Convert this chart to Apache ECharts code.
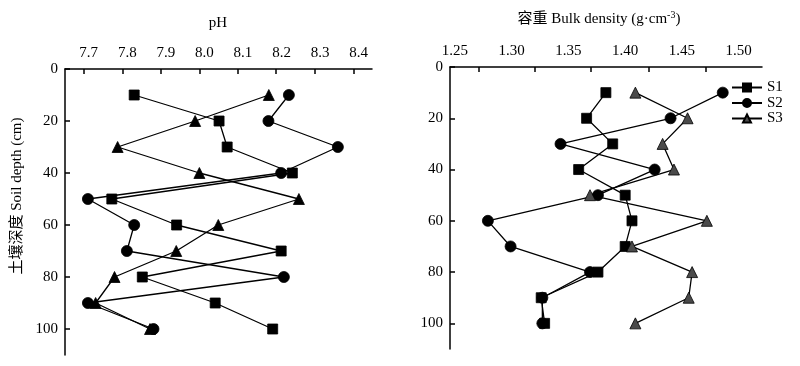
<!DOCTYPE html>
<html>
<head>
<meta charset="utf-8">
<script src="https://cdn.jsdelivr.net/npm/echarts@6/dist/echarts.min.js"></script>
<style>
html,body{margin:0;padding:0;background:#fff;}
#chart{width:800px;height:366px;}
</style>
</head>
<body>
<div id="chart"></div>
<script>
// Depths (cm)
const depths = [10, 20, 30, 40, 50, 60, 70, 80, 90, 100];
// pH values
const phS1 = [7.818, 8.038, 8.059, 8.228, 7.760, 7.928, 8.199, 7.839, 8.028, 8.177];
const phS2 = [8.219, 8.166, 8.346, 8.199, 7.698, 7.818, 7.799, 8.206, 7.698, 7.868];
const phS3 = [8.167, 7.976, 7.775, 7.987, 8.245, 8.036, 7.927, 7.767, 7.718, 7.859];
// Bulk density values (g·cm-3)
const bdS1 = [1.383, 1.366, 1.389, 1.359, 1.400, 1.406, 1.400, 1.376, 1.326, 1.329];
const bdS2 = [1.486, 1.440, 1.343, 1.426, 1.376, 1.279, 1.299, 1.369, 1.327, 1.327];
const bdS3 = [1.409, 1.455, 1.433, 1.443, 1.369, 1.472, 1.406, 1.459, 1.456, 1.409];
// Tick labels and tick mark positions
const phLabels = [7.7, 7.8, 7.9, 8.0, 8.1, 8.2, 8.3, 8.4];
const phTickMarks = [7.686, 7.788, 7.888, 7.987, 8.086, 8.186, 8.286, 8.386];
const bdLabels = [1.25, 1.30, 1.35, 1.40, 1.45, 1.50];
const bdTickMarks = [1.2712, 1.3206, 1.3700, 1.4212, 1.4706];
const depthLabels = [0, 20, 40, 60, 80, 100];

const FONT = "'Liberation Serif', 'Noto Sans CJK SC', serif";
const pairs = (vals) => vals.map((v, i) => [v, depths[i]]);

const axisLineStyle = { color: '#000', width: 1.5 };

function xAx(gi, min, max, labels, ticks, dec) {
  return {
    type: 'value', gridIndex: gi, position: 'top', min: min, max: max,
    axisLine: { show: true, onZero: false, lineStyle: axisLineStyle },
    axisTick: { show: true, inside: true, length: 5, customValues: ticks, lineStyle: { color: '#000', width: 1.5 } },
    axisLabel: { customValues: labels, formatter: v => v.toFixed(dec), margin: 8, fontSize: 15, color: '#000', fontFamily: FONT },
    splitLine: { show: false }
  };
}
function yAx(gi) {
  return {
    type: 'value', gridIndex: gi, inverse: true, min: 0, max: 110,
    axisLine: { show: true, onZero: false, lineStyle: axisLineStyle },
    axisTick: { show: true, inside: true, length: 5, customValues: depthLabels, lineStyle: { color: '#000', width: 1.5 } },
    axisLabel: { customValues: depthLabels, margin: 7, fontSize: 15, color: '#000', fontFamily: FONT },
    splitLine: { show: false }
  };
}
function ser(name, xi, data, symbol, size, fill) {
  return {
    name: name, type: 'line', xAxisIndex: xi, yAxisIndex: xi, data: pairs(data),
    symbol: symbol, symbolSize: size, showAllSymbol: true,
    lineStyle: { color: '#000', width: 1.3 },
    itemStyle: { color: fill, borderColor: '#000', borderWidth: 0.8 },
    emphasis: { disabled: true }, z: 3
  };
}

const chart = echarts.init(document.getElementById('chart'), null, { renderer: 'canvas' });
chart.setOption({
  animation: false,
  backgroundColor: '#fff',
  textStyle: { fontFamily: FONT },
  grid: [
    { left: 65, top: 69, width: 307, height: 286 },
    { left: 450, top: 67, width: 312, height: 282 }
  ],
  xAxis: [
    xAx(0, 7.6386, 8.4345, phLabels, phTickMarks, 1),
    xAx(1, 1.2456, 1.5206, bdLabels, bdTickMarks, 2)
  ],
  yAxis: [yAx(0), yAx(1)],
  legend: {
    orient: 'vertical', left: 731, top: 80, padding: 0, itemWidth: 30, itemHeight: 10, itemGap: 0.5,
    data: ['S1', 'S2', 'S3'],
    textStyle: { fontSize: 15, lineHeight: 14, color: '#000', fontFamily: FONT },
    selectedMode: false
  },
  series: [
    ser('S1', 1, bdS1, 'rect', 10, '#000'),
    ser('S2', 1, bdS2, 'circle', 11, '#000'),
    ser('S3', 1, bdS3, 'triangle', 11, '#4a4a4a'),
    ser('S1', 0, phS1, 'rect', 10, '#000'),
    ser('S2', 0, phS2, 'circle', 11, '#000'),
    ser('S3', 0, phS3, 'triangle', 11, '#000')
  ],
  graphic: [
    { type: 'text', x: 218, y: 23, style: { text: 'pH', font: '15px ' + FONT, fill: '#000', textAlign: 'center', textVerticalAlign: 'middle' } },
    { type: 'text', x: 599, y: 19, style: {
        text: '{a|容重 Bulk density (g·cm}{s|-3}{a|)}',
        textAlign: 'center', textVerticalAlign: 'middle',
        rich: {
          a: { fontSize: 15, fontFamily: FONT, fill: '#000', color: '#000' },
          s: { fontSize: 10, fontFamily: FONT, fill: '#000', color: '#000', padding: [0, 0, 7, 0] }
        }
      } },
    { type: 'text', x: 17, y: 196, rotation: Math.PI / 2, style: { text: '土壤深度 Soil depth (cm)', font: '15px ' + FONT, fill: '#000', textAlign: 'center', textVerticalAlign: 'middle' } }
  ]
});
</script>
</body>
</html>
